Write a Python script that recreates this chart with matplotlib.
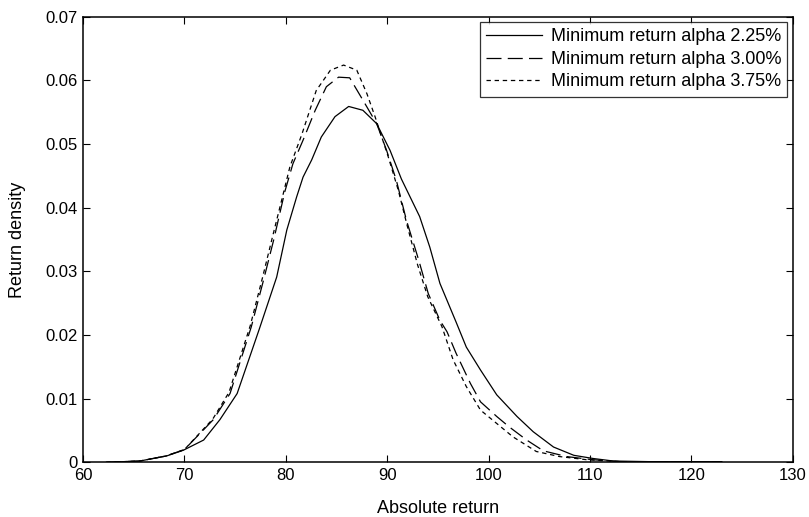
import numpy as np
import matplotlib.pyplot as plt

plt.rcParams['font.family'] = ['Liberation Sans', 'DejaVu Sans']

# Minimum return alpha 2.25%
x1 = [62.3, 65.6, 68.25, 69.9, 71.9, 73.5, 75.2, 77.4, 79.1, 80.1, 81.07, 81.7,
      82.55, 83.5, 84.85, 86.2, 87.6, 88.96, 90.28, 91.4, 93.2, 94.2, 95.2, 96.8,
      97.8, 99.2, 100.8, 102.8, 104.4, 106.4, 108.4, 110.3, 112.3, 116.0, 123.0]
y1 = [0.0, 0.0002, 0.001, 0.0019, 0.0035, 0.0067, 0.0108, 0.021, 0.0291, 0.0365,
      0.0417, 0.0448, 0.0475, 0.0511, 0.0543, 0.0559, 0.0553, 0.0532, 0.049,
      0.0445, 0.0386, 0.0338, 0.0281, 0.022, 0.0181, 0.0145, 0.0106, 0.0072,
      0.0048, 0.0024, 0.0011, 0.0006, 0.0002, 0.0001, 0.0001]

# Minimum return alpha 3.00%
x2 = [62.3, 65.6, 68.2, 70.0, 72.85, 74.5, 76.6, 77.8, 78.8, 79.9, 80.7, 81.7,
      82.9, 84.0, 85.2, 86.3, 87.6, 88.96, 89.94, 90.9, 91.9, 93.1, 94.05, 95.2,
      95.9, 96.8, 98.2, 99.2, 100.8, 102.0, 103.75, 105.4, 107.7, 110.3, 113.0, 123.0]
y2 = [0.0, 0.0002, 0.001, 0.002, 0.0067, 0.0108, 0.0213, 0.0286, 0.0349, 0.0425,
      0.0469, 0.0506, 0.0553, 0.059, 0.0605, 0.0604, 0.0569, 0.0532, 0.049,
      0.0443, 0.038, 0.0318, 0.0265, 0.0223, 0.0205, 0.0171, 0.0124, 0.0095,
      0.0072, 0.0056, 0.0035, 0.0018, 0.0009, 0.0004, 0.0001, 0.0001]

# Minimum return alpha 3.75%
x3 = [62.3, 65.6, 68.2, 70.0, 72.8, 74.4, 76.5, 77.7, 78.7, 79.75, 80.4, 81.6,
      83.0, 84.4, 85.7, 87.0, 88.0, 88.8, 90.1, 91.1, 92.0, 93.0, 94.0, 95.4,
      96.5, 97.8, 99.2, 100.8, 102.4, 104.7, 107.0, 109.7, 113.0, 123.0]
y3 = [0.0, 0.0002, 0.001, 0.002, 0.0068, 0.011, 0.0215, 0.029, 0.0355, 0.0422,
      0.0464, 0.0516, 0.0584, 0.0616, 0.0624, 0.0616, 0.0579, 0.0543, 0.048,
      0.0427, 0.037, 0.031, 0.026, 0.0213, 0.0161, 0.0119, 0.0082, 0.0061,
      0.004, 0.0017, 0.0009, 0.0004, 0.0001, 0.0001]

labels = ['Minimum return alpha 2.25%', 'Minimum return alpha 3.00%',
          'Minimum return alpha 3.75%']

fig = plt.figure(figsize=(8.09, 5.17), dpi=100)
ax = fig.add_axes([0.1026, 0.1058, 0.8774, 0.8619])

ax.plot(x1, y1, color='black', lw=0.9, label=labels[0])
ax.plot(x2, y2, color='black', lw=0.9, linestyle=(0, (12, 5)), label=labels[1])
ax.plot(x3, y3, color='black', lw=0.9, linestyle=(0, (3.5, 3)), label=labels[2])

ax.set_xlim(60, 130)
ax.set_ylim(0, 0.07)
ax.set_xticks(np.arange(60, 131, 10))
ax.set_yticks(np.arange(0, 0.071, 0.01))
ax.set_yticklabels(['0', '0.01', '0.02', '0.03', '0.04', '0.05', '0.06', '0.07'])
ax.tick_params(direction='in', top=True, right=True, labelsize=12, length=5, width=0.8)
ax.tick_params(axis='y', pad=4)
ax.tick_params(axis='x', pad=4)
for s in ax.spines.values():
    s.set_linewidth(1.1)

ax.set_xlabel('Absolute return', fontsize=13, va='center')
ax.set_ylabel('Return density', fontsize=13, va='center', ha='center')
ax.xaxis.set_label_coords(0.5, -0.1026)
ax.yaxis.set_label_coords(-0.0923, 0.5)

leg = ax.legend(loc='upper right', fontsize=13, handlelength=3.1, frameon=True,
                fancybox=False, edgecolor='black', borderaxespad=0.3,
                labelspacing=0.3, handletextpad=0.45, borderpad=0.35)
leg.get_frame().set_linewidth(0.9)

fig.savefig('out.png', dpi=100)
